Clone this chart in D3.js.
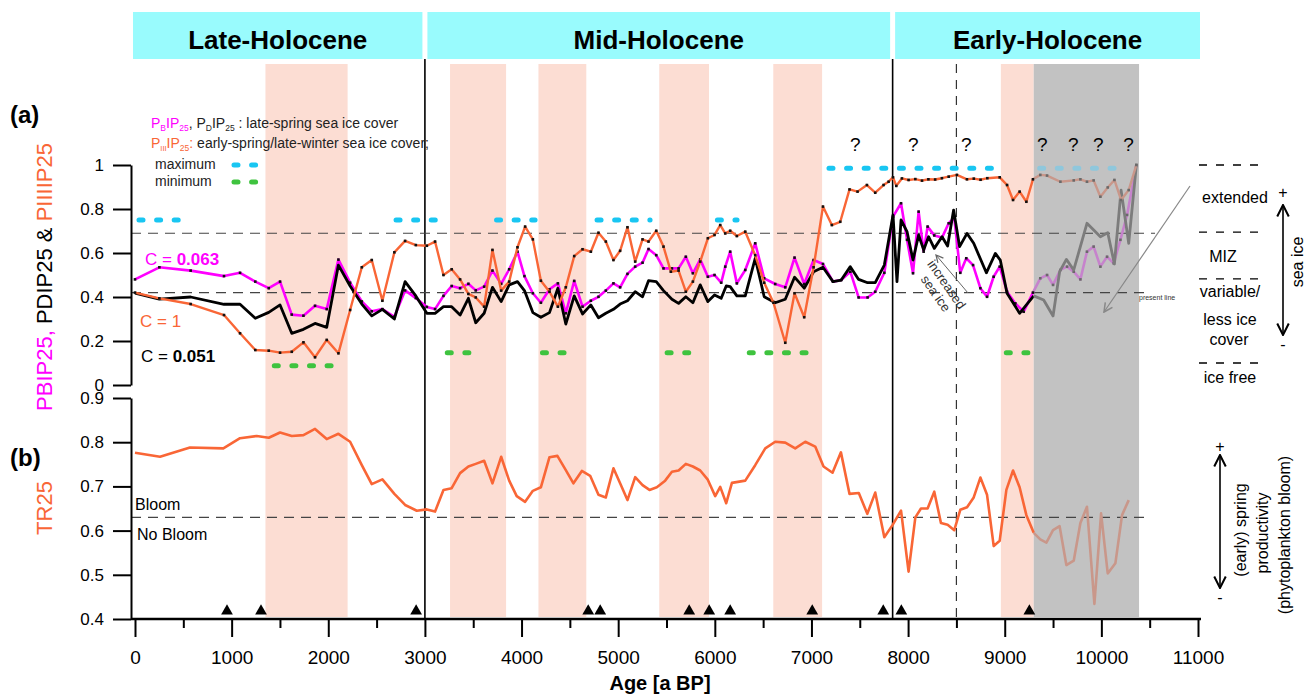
<!DOCTYPE html>
<html><head><meta charset="utf-8">
<script src="https://cdn.jsdelivr.net/npm/d3@7"></script>
<style>body{margin:0;background:#fff}svg{display:block;font-family:"Liberation Sans",Arial,sans-serif}</style>
</head><body><svg id="c" width="1308" height="694"></svg>
<script>
// ---------------- DATA ----------------
const periodNames = ["Late-Holocene","Mid-Holocene","Early-Holocene"];
const periodBounds = [0,3000,7840,11000];
const warmBands = [[1350,2200],[3260,3840],[4175,4670],[5425,5940],[6605,7110],[8960,9300]];
const grayBand = [9300,10390];
const xTicks = [0,1000,2000,3000,4000,5000,6000,7000,8000,9000,10000,11000];
const yTicksA = [0,0.2,0.4,0.6,0.8,1];
const yTicksB = [0.4,0.5,0.6,0.7,0.8,0.9];
const datingAges = [952,1304,2909,4690,4814,5735,5942,6159,7008,7743,7930,9255];
const questionAges = [7453,8054,8602,9389,9710,9969,10280];

const ageB = [0,252,576,921,1087,1245,1384,1501,1622,1743,1863,1984,2105,2226,2347,2450,2560,2684,2795,2906,3020,3105,3192,3277,3364,3450,3526,3613,3699,3789,3872,3958,4030,4117,4200,4289,4376,4458,4545,4631,4717,4796,4872,4951,5020,5096,5176,5252,5314,5394,5469,5556,5625,5700,5773,5849,5928,5997,6066,6108,6159,6228,6315,6418,6511,6625,6729,6825,6925,7022,7119,7223,7308,7402,7488,7581,7660,7754,7844,7927,7989,8051,8109,8161,8202,8271,8351,8420,8478,8540,8602,8672,8748,8817,8885,8948,9024,9110,9196,9292,9368,9438,9500,9576,9645,9714,9783,9851,9920,9990,10059,10128,10197,10266,10362];
const pbIP25 = [0.48,0.535,0.52,0.495,0.51,0.47,0.44,0.47,0.32,0.315,0.36,0.345,0.57,0.465,0.38,0.335,0.345,0.31,0.43,0.395,0.355,0.345,0.405,0.45,0.44,0.46,0.43,0.447,0.52,0.46,0.526,0.606,0.495,0.417,0.374,0.435,0.462,0.326,0.473,0.356,0.383,0.401,0.429,0.462,0.444,0.505,0.538,0.556,0.618,0.59,0.53,0.53,0.53,0.583,0.508,0.571,0.492,0.5,0.465,0.538,0.606,0.462,0.523,0.644,0.485,0.459,0.444,0.579,0.459,0.568,0.55,0.47,0.477,0.515,0.398,0.398,0.424,0.51,0.765,0.826,0.66,0.508,0.788,0.606,0.72,0.68,0.67,0.735,0.76,0.51,0.576,0.545,0.44,0.401,0.492,0.538,0.424,0.371,0.333,0.42,0.485,0.5,0.455,0.523,0.538,0.515,0.48,0.606,0.629,0.538,0.583,0.553,0.66,0.773,1.0];

const ageD = [0,252,576,921,1087,1245,1384,1501,1622,1743,1863,1984,2105,2226,2347,2450,2560,2684,2795,2906,3020,3105,3192,3277,3364,3450,3526,3613,3699,3789,3872,3958,4030,4117,4200,4289,4376,4458,4545,4631,4717,4796,4872,4951,5020,5096,5176,5252,5314,5394,5469,5556,5625,5700,5773,5849,5928,5997,6066,6118,6159,6228,6315,6418,6511,6625,6729,6825,6925,7022,7119,7223,7308,7402,7488,7581,7660,7754,7844,7885,7927,7989,8051,8109,8161,8212,8271,8351,8409,8471,8533,8610,8679,8810,8903,8954,9024,9154,9224,9300,9403,9500,9568,9638,9714,9851,9990,10066,10135,10204,10283,10362];
const pdIP25 = [0.417,0.39,0.4,0.367,0.367,0.303,0.33,0.364,0.235,0.253,0.28,0.262,0.545,0.45,0.368,0.314,0.344,0.3,0.47,0.405,0.326,0.326,0.356,0.356,0.318,0.394,0.283,0.326,0.444,0.379,0.455,0.47,0.429,0.329,0.308,0.329,0.44,0.277,0.405,0.323,0.364,0.306,0.326,0.344,0.368,0.383,0.424,0.401,0.474,0.47,0.429,0.39,0.371,0.401,0.374,0.455,0.379,0.409,0.394,0.45,0.447,0.405,0.405,0.576,0.401,0.374,0.39,0.49,0.44,0.515,0.535,0.47,0.477,0.538,0.48,0.465,0.465,0.545,0.773,0.47,0.75,0.697,0.568,0.682,0.614,0.674,0.621,0.674,0.632,0.795,0.629,0.689,0.644,0.51,0.598,0.568,0.417,0.326,0.364,0.405,0.386,0.314,0.515,0.571,0.523,0.735,0.674,0.692,0.55,0.886,0.644,1.0];

const ageIII = [0,252,576,921,1087,1245,1384,1501,1622,1743,1863,1984,2105,2226,2347,2450,2560,2684,2795,2906,3020,3105,3192,3277,3364,3450,3526,3613,3699,3789,3872,3958,4037,4117,4200,4289,4376,4458,4545,4631,4717,4796,4872,4951,5020,5096,5176,5252,5314,5394,5469,5545,5625,5700,5773,5849,5928,5997,6056,6108,6159,6228,6315,6418,6511,6607,6729,6825,6925,7022,7119,7211,7298,7394,7477,7574,7660,7746,7798,7844,7878,7936,8005,8075,8144,8210,8280,8350,8420,8505,8609,8680,8750,8820,8948,9024,9086,9154,9224,9292,9368,9438,9576,9714,9783,9851,9920,9990,10066,10135,10204,10283,10362];
const piiiIP25 = [0.42,0.394,0.368,0.318,0.235,0.159,0.156,0.147,0.151,0.194,0.126,0.205,0.144,0.341,0.535,0.568,0.383,0.603,0.655,0.636,0.633,0.652,0.5,0.526,0.48,0.414,0.398,0.356,0.614,0.429,0.47,0.626,0.72,0.662,0.474,0.424,0.356,0.444,0.586,0.617,0.606,0.692,0.652,0.568,0.61,0.717,0.561,0.662,0.652,0.701,0.629,0.515,0.52,0.424,0.47,0.561,0.667,0.682,0.727,0.689,0.701,0.677,0.697,0.59,0.465,0.374,0.192,0.417,0.308,0.535,0.811,0.727,0.742,0.889,0.879,0.909,0.874,0.909,0.924,0.944,0.905,0.939,0.932,0.936,0.929,0.935,0.934,0.94,0.947,0.955,0.935,0.938,0.933,0.94,0.944,0.909,0.841,0.879,0.833,0.935,0.955,0.952,0.924,0.93,0.935,0.924,0.93,0.856,0.898,0.932,0.841,0.886,1.0];

const ageTR = [0,259,569,914,1087,1259,1384,1501,1622,1743,1863,1984,2105,2226,2347,2450,2560,2684,2795,2916,3020,3105,3192,3277,3364,3450,3526,3613,3699,3789,3872,3950,4037,4117,4200,4289,4371,4458,4537,4624,4710,4796,4872,4951,5020,5096,5176,5252,5324,5400,5486,5556,5625,5700,5773,5849,5925,6004,6056,6118,6177,6315,6418,6522,6625,6729,6832,6936,7039,7125,7218,7305,7394,7490,7578,7660,7754,7840,7927,8005,8075,8133,8202,8271,8340,8409,8478,8540,8610,8679,8748,8817,8886,8948,9017,9086,9154,9224,9300,9368,9431,9500,9568,9638,9714,9783,9851,9928,9997,10066,10145,10214,10283];
const tr25 = [0.776,0.767,0.788,0.786,0.809,0.814,0.81,0.822,0.814,0.816,0.83,0.807,0.819,0.801,0.748,0.705,0.716,0.683,0.658,0.645,0.648,0.643,0.692,0.696,0.73,0.745,0.751,0.758,0.707,0.767,0.713,0.678,0.665,0.69,0.698,0.766,0.769,0.737,0.707,0.735,0.724,0.681,0.675,0.741,0.707,0.669,0.721,0.703,0.692,0.698,0.713,0.733,0.736,0.751,0.745,0.736,0.716,0.678,0.699,0.662,0.708,0.713,0.748,0.786,0.801,0.799,0.786,0.801,0.79,0.745,0.731,0.777,0.683,0.685,0.638,0.686,0.585,0.613,0.645,0.507,0.63,0.65,0.65,0.688,0.617,0.613,0.601,0.647,0.653,0.675,0.72,0.681,0.565,0.577,0.692,0.736,0.698,0.635,0.595,0.58,0.573,0.601,0.61,0.522,0.532,0.617,0.654,0.434,0.639,0.503,0.526,0.635,0.669];

// max / min sea ice indicator segments [startAge, endAge, value]
const maxSeg = [[0,450,0.75],[2660,3125,0.75],[3700,4140,0.75],[4740,5330,0.75],[5985,6230,0.75],[7140,8880,0.985]];
const maxSegFaded = [[9320,10150,0.985]];
const minSeg = [[1400,2040,0.088],[3190,3570,0.147],[4175,4450,0.147],[5465,5745,0.147],[6315,6955,0.147],[8975,9245,0.147]];

// ---------------- CHART ----------------
const svg = d3.select("#c");
const x = d3.scaleLinear().domain([0,11000]).range([135,1198]);
const yA = d3.scaleLinear().domain([0,1]).range([385,165]);
const yB = d3.scaleLinear().domain([0.4,0.9]).range([619,398]);
const FADE_AGE = 9300;
const C = {mag:"#ff00ff", blk:"#000000", org:"#f96636", magF:"#c683cc", blkF:"#7c7c7c", orgF:"#c9978a",
  band:"#fcddd3", gray:"#c2c2c2", cyan:"#19c6f2", cyanF:"#8fc7dc", green:"#3fc33f", head:"#99fbfd"};

svg.append("rect").attr("width",1308).attr("height",694).attr("fill","#fff");

// header
periodNames.forEach((n,i)=>{
  const x0 = x(periodBounds[i]) + (i===0?-2:2.5);
  const x1 = x(periodBounds[i+1]) + (i===2?2:-2.5);
  svg.append("rect").attr("x",x0).attr("y",12).attr("width",x1-x0).attr("height",47).attr("fill",C.head);
  svg.append("text").attr("x",(x0+x1)/2).attr("y",49).attr("text-anchor","middle")
    .attr("font-size",26).attr("font-weight","bold").text(n);
});

// bands
svg.selectAll("rect.band").data(warmBands).join("rect").attr("class","band")
  .attr("x",d=>x(d[0])).attr("width",d=>x(d[1])-x(d[0])).attr("y",64).attr("height",617-64).attr("fill",C.band);
svg.append("rect").attr("x",x(grayBand[0])).attr("width",x(grayBand[1])-x(grayBand[0]))
  .attr("y",64).attr("height",617-64).attr("fill",C.gray);

// vertical period lines
[3000,7840].forEach(a=>svg.append("line").attr("x1",x(a)).attr("x2",x(a)).attr("y1",59).attr("y2",619)
  .attr("stroke","#000").attr("stroke-width",1.6));
svg.append("line").attr("x1",x(8500)).attr("x2",x(8500)).attr("y1",64).attr("y2",619)
  .attr("stroke","#333").attr("stroke-width",1.2).attr("stroke-dasharray","9,7");

// horizontal dashed thresholds
const hd = (x1,x2,y)=>svg.append("line").attr("x1",x1).attr("x2",x2).attr("y1",y).attr("y2",y)
  .attr("stroke","#444").attr("stroke-width",1.1).attr("stroke-dasharray","10,7");
hd(131,1155,yA(0.69));
hd(131,1148,yA(0.42));
hd(131,1148,yB(0.63));
svg.append("text").attr("x",1139).attr("y",yA(0.42)+7).attr("font-size",7).attr("fill","#333").text("present line");

// max / min segments
function segs(data,color){
  svg.selectAll(null).data(data).join("line")
    .attr("x1",d=>x(d[0])+4).attr("x2",d=>x(d[1])).attr("y1",d=>yA(d[2])).attr("y2",d=>yA(d[2]))
    .attr("stroke",color).attr("stroke-width",5).attr("stroke-linecap","round").attr("stroke-dasharray","4,13.6");
}
segs(maxSeg,C.cyan); segs(maxSegFaded,C.cyanF); segs(minSeg,C.green);

// lines
function series(ages,vals,y,col,colF,w,dots){
  const pts = ages.map((a,i)=>[a,vals[i]]);
  const main = pts.filter(p=>p[0]<=FADE_AGE);
  const tail = pts.filter(p=>p[0]>=FADE_AGE-10);
  const line = d3.line().x(p=>x(p[0])).y(p=>y(p[1]));
  svg.append("path").attr("d",line(main)).attr("fill","none").attr("stroke",col).attr("stroke-width",w).attr("stroke-linejoin","round");
  svg.append("path").attr("d",line(tail)).attr("fill","none").attr("stroke",colF).attr("stroke-width",w).attr("stroke-linejoin","round");
  if(dots){
    svg.selectAll(null).data(pts).join("rect").attr("x",p=>x(p[0])-1.3).attr("y",p=>y(p[1])-1.3)
      .attr("width",2.6).attr("height",2.6).attr("fill",p=>p[0]>FADE_AGE?"#6a6a6a":"#111");
  }
}
series(ageB,pbIP25,yA,C.mag,C.magF,2.6,true);
series(ageD,pdIP25,yA,C.blk,C.blkF,2.8,false);
series(ageIII,piiiIP25,yA,C.org,C.orgF,2.4,true);
series(ageTR,tr25,yB,C.org,C.orgF,2.6,false);

// dating triangles
svg.selectAll(null).data(datingAges).join("path")
  .attr("d",d3.symbol(d3.symbolTriangle,60)).attr("transform",d=>`translate(${x(d)},611)`).attr("fill","#000");

// question marks
svg.selectAll(null).data(questionAges).join("text").attr("x",d=>x(d)).attr("y",151)
  .attr("text-anchor","middle").attr("font-size",19).text("?");

// axes
const fontAxis = g=>g.selectAll("text").attr("font-family",'"Liberation Sans",Arial,sans-serif').attr("fill","#000");
const axA = svg.append("g").attr("transform","translate(131,0)")
  .call(d3.axisLeft(yA).tickValues(yTicksA).tickFormat(d=>d===0||d===1?d3.format("d")(d):d3.format(".1f")(d)).tickSize(18).tickSizeOuter(0).tickPadding(9));
const axB = svg.append("g").attr("transform","translate(131,0)")
  .call(d3.axisLeft(yB).tickValues(yTicksB).tickFormat(d3.format(".1f")).tickSize(18).tickSizeOuter(0).tickPadding(9));
[axA,axB].forEach(g=>{g.selectAll("text").attr("font-size",17); g.selectAll("line,path").attr("stroke-width",2); fontAxis(g);});
const axX = svg.append("g").attr("transform","translate(0,619)")
  .call(d3.axisBottom(x).tickValues(xTicks).tickFormat(d3.format("d")).tickSize(18).tickSizeOuter(0).tickPadding(14));
axX.select(".domain").remove();
axX.selectAll("text").attr("font-size",19); axX.selectAll("line").attr("stroke-width",2); fontAxis(axX);
const axM = svg.append("g").attr("transform","translate(0,619)")
  .call(d3.axisBottom(x).tickValues(xTicks.slice(0,-1).map(d=>d+500)).tickFormat("").tickSize(9).tickSizeOuter(0));
axM.select(".domain").remove(); axM.selectAll("line").attr("stroke-width",2);
svg.append("line").attr("x1",131).attr("x2",1201).attr("y1",619).attr("y2",619).attr("stroke","#000").attr("stroke-width",2.4);
svg.append("text").attr("x",660).attr("y",690).attr("text-anchor","middle").attr("font-size",20).attr("font-weight","bold").text("Age [a BP]");

// panel labels
svg.append("text").attr("x",10).attr("y",123).attr("font-size",24).attr("font-weight","bold").text("(a)");
svg.append("text").attr("x",10).attr("y",466).attr("font-size",24).attr("font-weight","bold").text("(b)");

// y titles
const ta = svg.append("text").attr("transform","translate(52,277) rotate(-90)").attr("text-anchor","middle").attr("font-size",22);
ta.append("tspan").attr("fill",C.mag).text("PBIP25, ");
ta.append("tspan").attr("fill","#000").text("PDIP25 & ");
ta.append("tspan").attr("fill",C.org).text("PIIIIP25");
svg.append("text").attr("transform","translate(52,508) rotate(-90)").attr("text-anchor","middle")
  .attr("font-size",22).attr("fill",C.org).text("TR25");

// legend
function sub(t,txt,col,s){ t.append("tspan").attr("fill",col).attr("font-size",s).attr("dy",3).text(txt); }
const l1 = svg.append("text").attr("x",151).attr("y",128).attr("font-size",14);
l1.append("tspan").attr("fill",C.mag).text("P"); sub(l1,"B",C.mag,8.5);
l1.append("tspan").attr("fill",C.mag).attr("dy",-3).text("IP"); sub(l1,"25",C.mag,8.5);
l1.append("tspan").attr("dy",-3).attr("fill","#222").text(", P"); sub(l1,"D","#222",8.5);
l1.append("tspan").attr("dy",-3).attr("fill","#222").text("IP"); sub(l1,"25","#222",8.5);
l1.append("tspan").attr("dy",-3).attr("fill","#222").text(" : late-spring sea ice cover");
const l2 = svg.append("text").attr("x",151).attr("y",148).attr("font-size",14);
l2.append("tspan").attr("fill",C.org).text("P"); sub(l2,"III",C.org,7.5);
l2.append("tspan").attr("fill",C.org).attr("dy",-3).text("IP"); sub(l2,"25",C.org,8.5);
l2.append("tspan").attr("fill",C.org).attr("dy",-3).text(":");
l2.append("tspan").attr("fill","#222").text(" early-spring/late-winter sea ice cover;");
svg.append("text").attr("x",155).attr("y",169).attr("font-size",14).attr("fill","#222").text("maximum");
svg.append("text").attr("x",155).attr("y",186).attr("font-size",14).attr("fill","#222").text("minimum");
[[165,C.cyan],[182,C.green]].forEach(([yy,c])=>svg.append("line").attr("x1",234).attr("x2",258).attr("y1",yy).attr("y2",yy)
  .attr("stroke",c).attr("stroke-width",5).attr("stroke-linecap","round").attr("stroke-dasharray","4,13.6"));

// C labels
const c1 = svg.append("text").attr("x",145).attr("y",265).attr("font-size",17).attr("fill",C.mag);
c1.append("tspan").text("C = "); c1.append("tspan").attr("font-weight","bold").text("0.063");
svg.append("text").attr("x",140).attr("y",327).attr("font-size",17).attr("fill",C.org).text("C = 1");
const c3 = svg.append("text").attr("x",141).attr("y",362).attr("font-size",17).attr("fill","#000");
c3.append("tspan").text("C = "); c3.append("tspan").attr("font-weight","bold").text("0.051");

// bloom labels
svg.append("text").attr("x",135).attr("y",510).attr("font-size",16).text("Bloom");
svg.append("text").attr("x",137).attr("y",540).attr("font-size",16).text("No Bloom");

// arrows defs
const defs = svg.append("defs");
function mk(id,col){ defs.append("marker").attr("id",id).attr("viewBox","0 0 10 10").attr("refX",9).attr("refY",5)
  .attr("markerWidth",9).attr("markerHeight",9).attr("orient","auto-start-reverse")
  .append("path").attr("d","M1,1 L9,5 L1,9").attr("fill","none").attr("stroke",col).attr("stroke-width",1.4); }
mk("ab","#000"); mk("ag","#666"); mk("ag2","#888");

// increased sea ice
svg.append("line").attr("x1",968).attr("y1",293).attr("x2",936).attr("y2",255).attr("stroke","#666").attr("stroke-width",1).attr("marker-end","url(#ag)");
svg.append("text").attr("transform","translate(943,287) rotate(55)").attr("text-anchor","middle").attr("font-size",13).attr("fill","#333").text("increased");
svg.append("text").attr("transform","translate(932,296) rotate(55)").attr("text-anchor","middle").attr("font-size",13).attr("fill","#333").text("sea ice");
svg.append("line").attr("x1",1190).attr("y1",186).attr("x2",1104).attr("y2",312).attr("stroke","#888").attr("stroke-width",1.2).attr("marker-end","url(#ag2)");

// right sea-ice annotation
const lvl = [1,0.695,0.482,0.1];
lvl.forEach(v=>svg.append("line").attr("x1",1199).attr("x2",1262).attr("y1",yA(v)).attr("y2",yA(v))
  .attr("stroke","#000").attr("stroke-width",1.3).attr("stroke-dasharray","8,9"));
const rt = (tx,xx,yy,anchor)=>svg.append("text").attr("x",xx).attr("y",yy).attr("font-size",16).attr("text-anchor",anchor||"start").text(tx);
rt("extended",1235,203,"middle"); rt("MIZ",1223,262,"middle");
rt("variable/",1230,297,"middle"); rt("less ice",1230,325,"middle"); rt("cover",1229,345,"middle"); rt("ice free",1230,383,"middle");
svg.append("line").attr("x1",1283).attr("x2",1283).attr("y1",205).attr("y2",335).attr("stroke","#000").attr("stroke-width",1.6)
  .attr("marker-start","url(#ab)").attr("marker-end","url(#ab)");
rt("+",1283,198,"middle"); rt("-",1283,350,"middle");
svg.append("text").attr("transform","translate(1303,262) rotate(-90)").attr("text-anchor","middle").attr("font-size",16).text("sea ice");

// right productivity annotation
svg.append("line").attr("x1",1220).attr("x2",1220).attr("y1",455).attr("y2",588).attr("stroke","#000").attr("stroke-width",1.6)
  .attr("marker-start","url(#ab)").attr("marker-end","url(#ab)");
rt("+",1220,452,"middle"); rt("-",1220,603,"middle");
[["(early) spring",1246,530],["productivity",1268,533],["(phytoplankton bloom)",1290,535]].forEach(([t,xx,yy])=>
  svg.append("text").attr("transform",`translate(${xx},${yy}) rotate(-90)`).attr("text-anchor","middle").attr("font-size",16).text(t));
</script></body></html>
